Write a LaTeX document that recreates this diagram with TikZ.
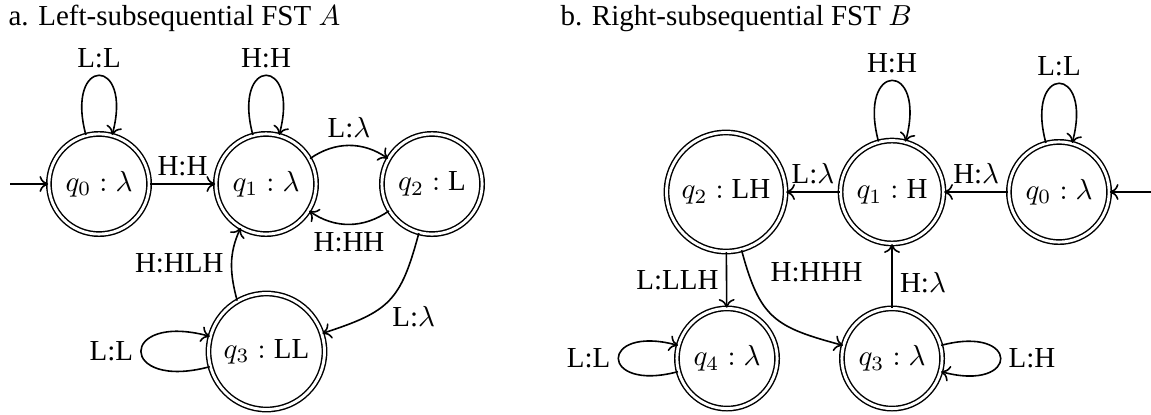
\documentclass[tikz,border=0pt]{standalone}
\usepackage{fontspec}
\setmainfont{Liberation Serif}
\usetikzlibrary{arrows.meta}
\begin{document}
\begin{tikzpicture}[x=0.345pt,y=0.345pt,
  st/.style={circle,draw,double,double distance=1pt,line width=0.5pt,inner sep=3.7pt},
  tr/.style={-{To[length=3pt,width=5.5pt]},line width=0.55pt},
  lb/.style={inner sep=2.5pt},
  captext/.style={anchor=base west,inner sep=0pt}]
\useasboundingbox (0,0) rectangle (1151,414);
% captions
\node[captext] (capa) at (8,389) {a. Left-subsequential FST $A$};
\node[captext] (capb) at (560,389) {b. Right-subsequential FST $B$};
% left FST
\node[st] (a0) at (99,230) {$q_0:\lambda$};
\node[st] (a1) at (266,230) {$q_1:\lambda$};
\node[st] (a2) at (432,230) {$q_2:\mathrm{L}$};
\node[st] (a3) at (266.5,62.5) {$q_3:\mathrm{LL}$};
\coordinate (ai) at (10,230);
\draw[tr] (ai) -- (a0);
\draw[tr] (a0) to[loop above] node[lb,above] {L:L} (a0);
\draw[tr] (a1) to[loop above] node[lb,above] {H:H} (a1);
\draw[tr] (a0) -- node[lb,above] {H:H} (a1);
\draw[tr] (a1.30) to[out=35,in=145] node[lb,above] {L:$\lambda$} (a2.150);
\draw[tr] (a2.212) to[out=-145,in=-35] node[lb,below] {H:HH} (a1.-32);
\draw[tr] (a2) to[out=-105,in=18,looseness=1.3] node[lb,pos=0.72,right=6pt] {L:$\lambda$} (a3);
\draw[tr] (a3.120) to[out=105,in=-115] node[lb,left] {H:HLH} (a1.240);
\draw[tr] (a3) to[loop left] node[lb,left] {L:L} (a3);
% right FST
\node[st] (b2) at (726,222) {$q_2:\mathrm{LH}$};
\node[st] (b1) at (892,222) {$q_1:\mathrm{H}$};
\node[st] (b0) at (1059,222) {$q_0:\lambda$};
\node[st] (b4) at (727,55.5) {$q_4:\lambda$};
\node[st] (b3) at (892,55.5) {$q_3:\lambda$};
\coordinate (bi) at (1151,222);
\draw[tr] (bi) -- (b0);
\draw[tr] (b0) to[loop above] node[lb,above] {L:L} (b0);
\draw[tr] (b1) to[loop above] node[lb,above] {H:H} (b1);
\draw[tr] (b0) -- node[lb,above] {H:$\lambda$} (b1);
\draw[tr] (b1) -- node[lb,above] {L:$\lambda$} (b2);
\draw[tr] (b2) -- node[lb,left] {L:LLH} (b4);
\draw[tr] (b2) to[out=-75,in=165,looseness=1.3] node[lb,pos=0.12,right=5pt] {H:HHH} (b3);
\draw[tr] (b3) -- node[lb,pos=0.4,right] {H:$\lambda$} (b1);
\draw[tr] (b4) to[loop left] node[lb,left] {L:L} (b4);
\draw[tr] (b3) to[loop right] node[lb,right] {L:H} (b3);
\end{tikzpicture}
\end{document}
